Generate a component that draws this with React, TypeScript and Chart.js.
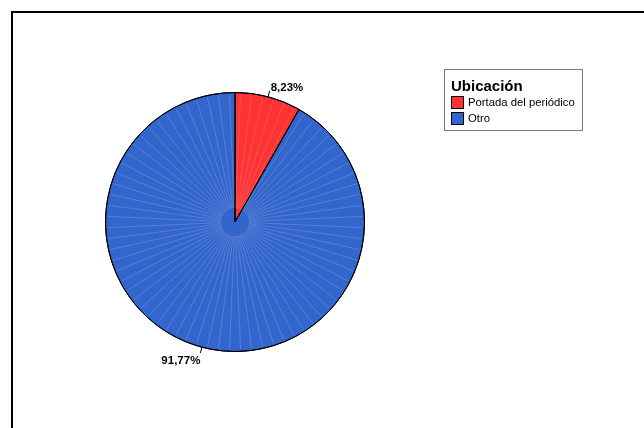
import React, { useEffect, useRef } from "react";
import { Chart, registerables } from "chart.js";

Chart.register(...registerables);

const categories = ["Portada del periódico", "Otro"];
const percentages = [8.23, 91.77];
const percentLabels = ["8,23%", "91,77%"];
const legendTitle = "Ubicación";
const sliceColors = ["#FF3333", "#3366CC"];

const W = 644;
const H = 428;

const decorPlugin = {
  id: "decor",
  beforeDraw(chart: any) {
    const ctx = chart.ctx;
    ctx.save();
    ctx.fillStyle = "#ffffff";
    ctx.fillRect(0, 0, W, H);
    ctx.restore();
  },
  afterDatasetsDraw(chart: any) {
    const ctx = chart.ctx;
    const meta = chart.getDatasetMeta(0);
    const arcs = meta.data;
    if (arcs.length) {
      const a0: any = arcs[0];
      const cx = a0.x, cy = a0.y, r = a0.outerRadius;
      ctx.save();
      ctx.strokeStyle = "rgba(255,255,255,0.16)";
      ctx.lineWidth = 1;
      for (let k = 0; k < 72; k++) {
        const ang = -Math.PI / 2 + (k + 0.5) * (Math.PI * 2 / 72);
        ctx.beginPath();
        ctx.moveTo(cx + Math.cos(ang) * 14, cy + Math.sin(ang) * 14);
        ctx.lineTo(cx + Math.cos(ang) * (r - 2), cy + Math.sin(ang) * (r - 2));
        ctx.stroke();
      }
      ctx.restore();
      ctx.save();
      ctx.strokeStyle = "#000";
      ctx.lineWidth = 1;
      ctx.beginPath();
      ctx.arc(cx, cy, r, 0, Math.PI * 2);
      ctx.stroke();
      arcs.forEach((a: any) => {
        ctx.beginPath();
        ctx.moveTo(cx, cy);
        ctx.lineTo(cx + Math.cos(a.startAngle) * r, cy + Math.sin(a.startAngle) * r);
        ctx.stroke();
      });
      ctx.restore();
    }
    ctx.save();
    ctx.font = "bold 11.5px 'Liberation Sans', Arial, sans-serif";
    ctx.fillStyle = "#000";
    ctx.strokeStyle = "#000";
    ctx.lineWidth = 1;
    arcs.forEach((a: any, i: number) => {
      const mid = (a.startAngle + a.endAngle) / 2;
      const r = a.outerRadius;
      const sx = a.x + Math.cos(mid) * r;
      const sy = a.y + Math.sin(mid) * r;
      const ex = a.x + Math.cos(mid) * (r + 6);
      const ey = a.y + Math.sin(mid) * (r + 6);
      ctx.beginPath();
      ctx.moveTo(sx, sy);
      ctx.lineTo(ex, ey);
      ctx.stroke();
      const right = Math.cos(mid) >= 0;
      const top = Math.sin(mid) < 0;
      ctx.textAlign = right ? "left" : "right";
      ctx.textBaseline = top ? "alphabetic" : "top";
      ctx.fillText(percentLabels[i], ex + (right ? 1 : 0), top ? ey : ey + 2);
    });
    ctx.restore();

    ctx.save();
    ctx.strokeStyle = "#777";
    ctx.lineWidth = 1;
    ctx.strokeRect(444.5, 69.5, 138, 61);
    ctx.fillStyle = "#000";
    ctx.font = "bold 15px 'Liberation Sans', Arial, sans-serif";
    ctx.textAlign = "left";
    ctx.textBaseline = "alphabetic";
    ctx.fillText(legendTitle, 451, 91);
    ctx.font = "11.3px 'Liberation Sans', Arial, sans-serif";
    categories.forEach((c, i) => {
      const y = 96 + i * 16;
      ctx.fillStyle = sliceColors[i];
      ctx.fillRect(451, y, 12, 12);
      ctx.strokeStyle = "#000";
      ctx.strokeRect(451.5, y + 0.5, 12, 12);
      ctx.fillStyle = "#000";
      ctx.fillText(c, 468, y + 10);
    });
    ctx.restore();

    ctx.save();
    ctx.strokeStyle = "#000";
    ctx.lineWidth = 2;
    ctx.beginPath();
    ctx.moveTo(12, H);
    ctx.lineTo(12, 12);
    ctx.lineTo(W, 12);
    ctx.stroke();
    ctx.restore();
  },
};

export default function App() {
  const ref = useRef<HTMLCanvasElement | null>(null);
  useEffect(() => {
    document.body.style.margin = "0";
    if (!ref.current) return;
    const chart = new Chart(ref.current, {
      type: "pie",
      data: {
        labels: categories,
        datasets: [
          {
            data: percentages,
            backgroundColor: sliceColors,
            borderColor: "#000",
            borderWidth: 1,
          },
        ],
      },
      options: {
        responsive: false,
        animation: false,
        layout: { padding: { left: 105, right: 279, top: 92, bottom: 76 } },
        plugins: {
          legend: { display: false },
          tooltip: { enabled: false },
        },
      },
      plugins: [decorPlugin],
    });
    return () => chart.destroy();
  }, []);
  return (
    <div style={{ position: "absolute", left: 0, top: 0, width: W, height: H }}>
      <canvas ref={ref} width={W} height={H} style={{ width: W, height: H, display: "block" }} />
    </div>
  );
}
